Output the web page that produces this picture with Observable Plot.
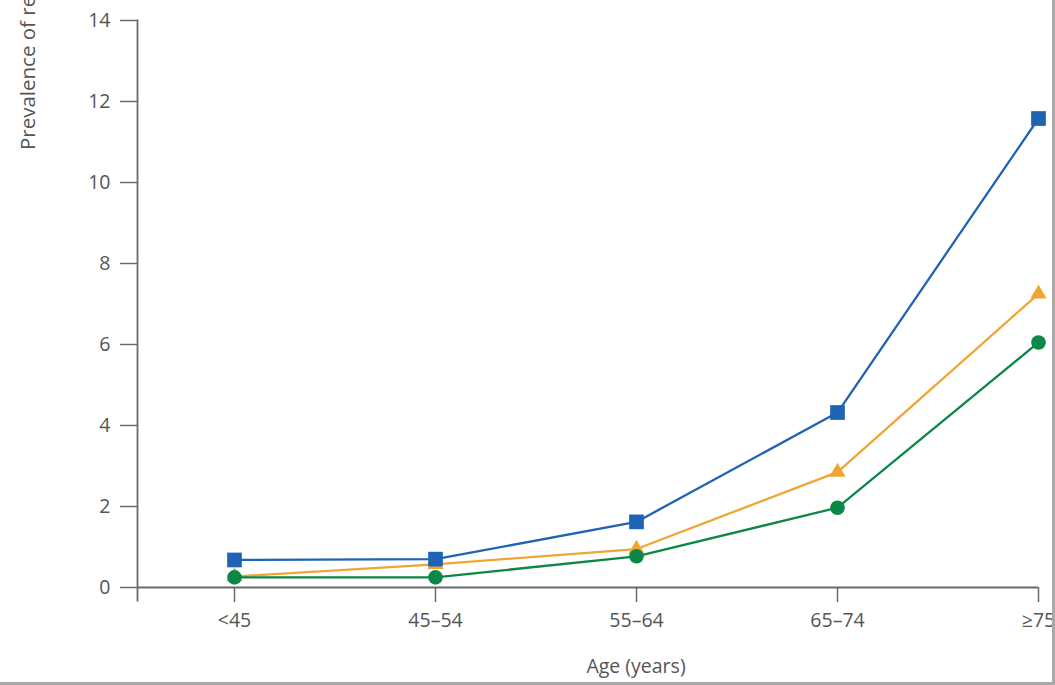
<!DOCTYPE html>
<html>
<head>
<meta charset="utf-8">
<script src="https://cdn.jsdelivr.net/npm/d3@7"></script>
<script src="https://cdn.jsdelivr.net/npm/@observablehq/plot@0.6"></script>
<style>
  html, body { margin: 0; padding: 0; background: #fff; }
  #wrap { position: relative; width: 1055px; height: 685px; overflow: hidden; font-family: "Open Sans", sans-serif; }
  #ylabel { position: absolute; left: 0; top: 0; width: 0; height: 0; }
  #ylabel span { position: absolute; white-space: nowrap; font-size: 20.5px; color: #555;
    transform-origin: 0 0; transform: rotate(-90deg); left: 14px; top: 150px; line-height: 26px; }
  #border { position: absolute; left: 0; top: 0; width: 1052px; height: 682px; border-right: 3px solid #a9a9a9; border-bottom: 3px solid #a9a9a9; pointer-events: none; }
</style>
</head>
<body>
<div id="wrap">
  <div id="chart"></div>
  <div id="ylabel"><span>Prevalence of retinopathy (%)</span></div>
  <div id="border"></div>
</div>
<script>
const ages = ["<45", "45–54", "55–64", "65–74", "≥75"];
const blueValues = [0.68, 0.70, 1.62, 4.32, 11.58];
const orangeValues = [0.27, 0.57, 0.95, 2.85, 7.25];
const greenValues = [0.25, 0.25, 0.77, 1.97, 6.05];
const yTicks = [0, 2, 4, 6, 8, 10, 12, 14];
const xLabel = "Age (years)";

const mk = (vals) => ages.map((a, i) => ({age: a, value: vals[i]}));
const blue = mk(blueValues), orange = mk(orangeValues), green = mk(greenValues);

const cBlue = "#1f63b4", cOrange = "#f0a535", cGreen = "#0b8848";

const chart = Plot.plot({
  width: 1055,
  height: 685,
  marginLeft: 137,
  marginRight: 17,
  marginTop: 20,
  marginBottom: 98,
  style: {fontFamily: "Open Sans, sans-serif", color: "#555", background: "transparent"},
  x: {type: "point", domain: ages, range: [234, 1038], padding: 0},
  y: {domain: [0, 14]},
  marks: [
    Plot.frame({anchor: "left", insetBottom: -13, stroke: "#6a6a6a", strokeWidth: 1.8}),
    Plot.ruleY([0], {stroke: "#6a6a6a", strokeWidth: 1.8}),
    Plot.axisY({ticks: yTicks, tickSize: 17, tickPadding: 10, fontSize: 19.5, stroke: "#6a6a6a", strokeWidth: 1.5, label: null}),
    Plot.axisX({tickSize: 15, tickPadding: 11, fontSize: 19.5, stroke: "#6a6a6a", strokeWidth: 1.5, label: null}),
    Plot.text([xLabel], {text: (d) => d, frameAnchor: "bottom", dx: 48, dy: 79, lineAnchor: "middle", textAnchor: "middle", fontSize: 19.5, fill: "#555"}),
    Plot.line(orange, {x: "age", y: "value", stroke: cOrange, strokeWidth: 2.3}),
    Plot.dot(orange, {x: "age", y: "value", symbol: "triangle", r: 6, fill: cOrange}),
    Plot.line(blue, {x: "age", y: "value", stroke: cBlue, strokeWidth: 2.3}),
    Plot.dot(blue, {x: "age", y: "value", symbol: "square", r: 8.3, fill: cBlue}),
    Plot.line(green, {x: "age", y: "value", stroke: cGreen, strokeWidth: 2.3}),
    Plot.dot(green, {x: "age", y: "value", symbol: "circle", r: 7.3, fill: cGreen})
  ]
});
document.getElementById("chart").appendChild(chart);
</script>
</body>
</html>
